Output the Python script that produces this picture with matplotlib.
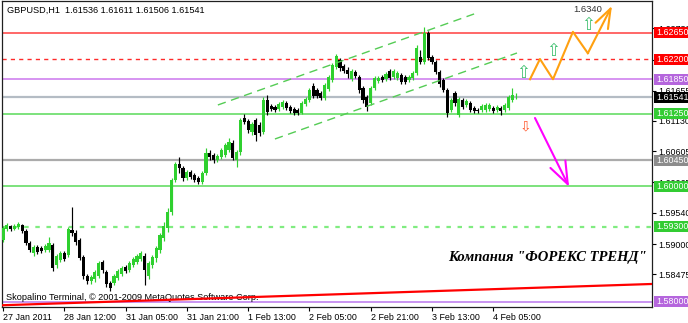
import matplotlib
matplotlib.use('Agg')
import matplotlib.pyplot as plt
from matplotlib.patches import Rectangle
from matplotlib.transforms import blended_transform_factory
import numpy as np

# ---------------- data (GBPUSD H1) ----------------
opens = [
    1.5907, 1.5926, 1.5931, 1.5926, 1.5930, 1.5933, 1.5923, 1.5902, 1.5885, 1.5895,
    1.5893, 1.5890, 1.5890, 1.5898, 1.5864, 1.5872, 1.5885, 1.5881, 1.5924, 1.5919,
    1.5907, 1.5878, 1.5845, 1.5836, 1.5840, 1.5845, 1.5869, 1.5852, 1.5833, 1.5833,
    1.5841, 1.5848, 1.5860, 1.5855, 1.5864, 1.5869, 1.5874, 1.5879, 1.5845, 1.5864,
    1.5876, 1.5890, 1.5911, 1.5928, 1.5956, 1.6011, 1.6038, 1.6032, 1.6014, 1.6025,
    1.6019, 1.6014, 1.6007, 1.6023, 1.6058, 1.6054, 1.6045, 1.6051, 1.6054, 1.6063,
    1.6075, 1.6045, 1.6059, 1.6118, 1.6113, 1.6094, 1.6115, 1.6106, 1.6094, 1.6149,
    1.6139, 1.6137, 1.6134, 1.6137, 1.6144, 1.6137, 1.6134, 1.6132, 1.6127, 1.6142,
    1.6149, 1.6173, 1.6166, 1.6161, 1.6153, 1.6168, 1.6184, 1.6206, 1.6218, 1.6208,
    1.6201, 1.6185, 1.6198, 1.6189, 1.6170, 1.6154, 1.6144, 1.6170, 1.6182, 1.6189,
    1.6185, 1.6199, 1.6189, 1.6187, 1.6192, 1.6189, 1.6184, 1.6187, 1.6196, 1.6223,
    1.6215, 1.6265, 1.6223, 1.6215, 1.6198, 1.6184, 1.6166, 1.6132, 1.6161, 1.6123,
    1.6149, 1.6141, 1.6144, 1.6135, 1.6132, 1.6132, 1.6132, 1.6134, 1.6135, 1.6132,
    1.6135, 1.6132, 1.6135, 1.6149, 1.61536]
highs = [
    1.5931, 1.5936, 1.5933, 1.5935, 1.5938, 1.5935, 1.5926, 1.5905, 1.5898, 1.5898,
    1.5897, 1.5900, 1.5912, 1.5902, 1.5883, 1.5888, 1.5888, 1.5930, 1.5964, 1.5924,
    1.5911, 1.5881, 1.5848, 1.5847, 1.5855, 1.5871, 1.5872, 1.5855, 1.5836, 1.5848,
    1.5857, 1.5862, 1.5864, 1.5871, 1.5878, 1.5883, 1.5888, 1.5885, 1.5871, 1.5881,
    1.5897, 1.5919, 1.5938, 1.5962, 1.6014, 1.6042, 1.6051, 1.6035, 1.6028, 1.6028,
    1.6023, 1.6018, 1.6026, 1.6066, 1.6063, 1.6058, 1.6056, 1.6066, 1.6075, 1.6083,
    1.6080, 1.6063, 1.6118, 1.6125, 1.6116, 1.6111, 1.6118, 1.6111, 1.6154, 1.6158,
    1.6142, 1.6141, 1.6146, 1.6149, 1.6147, 1.6141, 1.6137, 1.6135, 1.6147, 1.6154,
    1.6170, 1.6179, 1.6170, 1.6165, 1.6179, 1.6192, 1.6213, 1.6229, 1.6222, 1.6211,
    1.6206, 1.6203, 1.6201, 1.6192, 1.6173, 1.6158, 1.6173, 1.6191, 1.6191, 1.6192,
    1.6198, 1.6203, 1.6203, 1.6199, 1.6196, 1.6192, 1.6192, 1.6199, 1.6244, 1.6236,
    1.6275, 1.6268, 1.6227, 1.6218, 1.6201, 1.6187, 1.6170, 1.6153, 1.6165, 1.6154,
    1.6153, 1.6151, 1.6147, 1.6139, 1.6135, 1.6142, 1.6144, 1.6144, 1.6139, 1.6141,
    1.6139, 1.6144, 1.6158, 1.6170, 1.61611]
lows = [
    1.5904, 1.5923, 1.5923, 1.5924, 1.5926, 1.5919, 1.5898, 1.5886, 1.5879, 1.5883,
    1.5885, 1.5886, 1.5886, 1.5853, 1.5859, 1.5869, 1.5871, 1.5878, 1.5914, 1.5898,
    1.5872, 1.5840, 1.5831, 1.5831, 1.5834, 1.5841, 1.5850, 1.5826, 1.5819, 1.5829,
    1.5838, 1.5845, 1.5850, 1.5852, 1.5860, 1.5866, 1.5871, 1.5829, 1.5840, 1.5859,
    1.5869, 1.5885, 1.5905, 1.5921, 1.5950, 1.6007, 1.6023, 1.6009, 1.6011, 1.6013,
    1.6007, 1.6004, 1.6004, 1.6019, 1.6045, 1.6040, 1.6042, 1.6047, 1.6051, 1.6059,
    1.6045, 1.6033, 1.6054, 1.6108, 1.6092, 1.6089, 1.6078, 1.6087, 1.6090, 1.6123,
    1.6130, 1.6128, 1.6130, 1.6134, 1.6132, 1.6127, 1.6123, 1.6123, 1.6125, 1.6139,
    1.6146, 1.6153, 1.6153, 1.6149, 1.6149, 1.6165, 1.6180, 1.6203, 1.6199, 1.6196,
    1.6187, 1.6182, 1.6187, 1.6161, 1.6144, 1.6130, 1.6141, 1.6166, 1.6179, 1.6180,
    1.6182, 1.6184, 1.6185, 1.6184, 1.6177, 1.6177, 1.6180, 1.6184, 1.6192, 1.6211,
    1.6211, 1.6218, 1.6211, 1.6194, 1.6172, 1.6163, 1.6120, 1.6128, 1.6139, 1.6120,
    1.6134, 1.6137, 1.6128, 1.6127, 1.6127, 1.6128, 1.6128, 1.6130, 1.6127, 1.6128,
    1.6123, 1.6128, 1.6132, 1.6146, 1.61506]
closes = [
    1.5928, 1.5933, 1.5926, 1.5931, 1.5935, 1.5923, 1.5902, 1.5890, 1.5895, 1.5886,
    1.5888, 1.5897, 1.5902, 1.5859, 1.5879, 1.5885, 1.5874, 1.5926, 1.5919, 1.5904,
    1.5876, 1.5845, 1.5836, 1.5843, 1.5852, 1.5867, 1.5855, 1.5831, 1.5824, 1.5845,
    1.5853, 1.5859, 1.5853, 1.5867, 1.5874, 1.5879, 1.5885, 1.5855, 1.5867, 1.5878,
    1.5893, 1.5916, 1.5931, 1.5956, 1.6011, 1.6038, 1.6032, 1.6014, 1.6025, 1.6016,
    1.6011, 1.6007, 1.6023, 1.6058, 1.6051, 1.6045, 1.6052, 1.6063, 1.6071, 1.6076,
    1.6049, 1.6059, 1.6115, 1.6111, 1.6097, 1.6108, 1.6089, 1.6092, 1.6149, 1.6128,
    1.6134, 1.6132, 1.6142, 1.6146, 1.6135, 1.6130, 1.6127, 1.6127, 1.6144, 1.6151,
    1.6166, 1.6156, 1.6156, 1.6153, 1.6175, 1.6189, 1.6210, 1.6225, 1.6204, 1.6199,
    1.6194, 1.6199, 1.6191, 1.6166, 1.6149, 1.6137, 1.6170, 1.6187, 1.6187, 1.6184,
    1.6194, 1.6187, 1.6199, 1.6196, 1.6180, 1.6180, 1.6189, 1.6196, 1.6239, 1.6215,
    1.6265, 1.6222, 1.6215, 1.6198, 1.6177, 1.6166, 1.6127, 1.6149, 1.6144, 1.6151,
    1.6137, 1.6147, 1.6132, 1.6130, 1.6130, 1.6139, 1.6141, 1.6141, 1.6130, 1.6137,
    1.6130, 1.6141, 1.6154, 1.6158, 1.61541]

time_label_bars = [0, 16, 32, 48, 64, 80, 96, 112, 128]
time_labels = ["27 Jan 2011", "28 Jan 12:00", "31 Jan 05:00", "31 Jan 21:00",
               "1 Feb 13:00", "2 Feb 05:00", "2 Feb 21:00", "3 Feb 13:00", "4 Feb 05:00"]
axis_ticks = [1.62730, 1.62190, 1.61655, 1.61130, 1.60605, 1.60065, 1.59540, 1.59000, 1.58475]

level_prices = [1.62650, 1.62200, 1.61850, 1.61250, 1.60450, 1.60000, 1.59300, 1.58000]
level_colors = ['#ff5c5c', '#ff2a2a', '#cc77ee', '#66dd66', '#ababab', '#66dd66', '#80ec80', '#bb77ee']
level_styles = ['-', (0, (3, 3)), '-', '-', '-', '-', (0, (2, 3)), '-']
level_widths = [1.3, 1.0, 1.1, 1.2, 1.6, 1.2, 1.6, 1.1]
label_colors = ['#ff0000', '#ff0000', '#b566dd', '#33cc33', '#8c8c8c', '#33cc33', '#33cc33', '#b566dd']
current_price = 1.61541

channel_upper_x = [56.1, 123.0]
channel_upper_y = [1.61405, 1.62979]
channel_lower_x = [71.0, 134.2]
channel_lower_y = [1.60817, 1.62304]

bull_path_x = [137.6, 140.2, 143.6, 148.8, 152.7, 159.0]
bull_path_y = [1.6185, 1.6220, 1.6185, 1.6267, 1.6230, 1.6312]
bear_path_x = [138.9, 147.8]
bear_path_y = [1.6118, 1.5999]
up_arrow_x = [135.8, 143.6, 152.7]
up_arrow_y = [1.6196, 1.6234, 1.6279]
down_arrow_x = [136.3]
down_arrow_y = [1.6104]
target_text = "1.6340"
target_pos = (148.8, 1.6305)
floor_line_x = [-0.3, 169.4]
floor_line_y = [1.57942, 1.58310]

header = "GBPUSD,H1  1.61536 1.61611 1.61506 1.61541"
copyright_text = "Skopalino Terminal, \u00a9 2001-2009 MetaQuotes Software Corp."
company_text = 'Компания "ФОРЕКС ТРЕНД"'

# ---------------- figure ----------------
plt.rcParams['font.family'] = ['Liberation Sans', 'DejaVu Sans']
W, H = 688, 323
fig = plt.figure(figsize=(W / 100, H / 100), dpi=100)
fig.patch.set_facecolor('white')
ax = fig.add_axes([2 / W, 16 / H, 650 / W, 306 / H])
ax.set_xlim(-0.26, 169.45)
ax.set_ylim(1.57912, 1.63203)
ax.set_facecolor('white')

o = np.array(opens); h = np.array(highs); l = np.array(lows); c = np.array(closes)
x = np.arange(len(o))
bull = c >= o
green = '#2fd02f'
col = np.where(bull, green, 'black')

# horizontal levels
for p, lc, ls, lw in zip(level_prices, level_colors, level_styles, level_widths):
    ax.axhline(p, color=lc, linestyle=ls, lw=lw, zorder=1)
ax.axhline(current_price, color='#b4bcc4', lw=1.6, zorder=1)

# candles
ax.vlines(x, l, h, colors=col, lw=0.85, zorder=3)
body_h = np.maximum(np.abs(c - o), 0.00012)
ax.bar(x, body_h, bottom=np.minimum(o, c), width=0.82, color=col, linewidth=0, zorder=4)

# channel
ax.plot(channel_upper_x, channel_upper_y, color='#55cc55', lw=1.0, dashes=(6, 4), zorder=5)
ax.plot(channel_lower_x, channel_lower_y, color='#55cc55', lw=1.0, dashes=(6, 4), zorder=5)

# floor trend line
ax.plot(floor_line_x, floor_line_y, color='#ff0000', lw=1.6, zorder=5, clip_on=True)

# forecast paths
orange = '#ffa010'
ax.plot(bull_path_x[:-1], bull_path_y[:-1], color=orange, lw=1.5, zorder=6)
ax.annotate('', xy=(bull_path_x[-1], bull_path_y[-1]), xytext=(bull_path_x[-2], bull_path_y[-2]),
            arrowprops=dict(arrowstyle='->,head_length=0.7,head_width=0.25', color=orange, lw=1.5,
                            mutation_scale=20, shrinkA=0, shrinkB=0), zorder=6)
ax.annotate('', xy=(bear_path_x[1], bear_path_y[1]), xytext=(bear_path_x[0], bear_path_y[0]),
            arrowprops=dict(arrowstyle='->,head_length=0.8,head_width=0.3', color='#ff00ff', lw=1.5,
                            mutation_scale=20, shrinkA=0, shrinkB=0), zorder=6)
for ux, uy in zip(up_arrow_x, up_arrow_y):
    ax.text(ux, uy, '\u21e7', color='#40c070', fontsize=12, ha='center', va='center',
            fontfamily='DejaVu Sans', zorder=7)
for dx, dy in zip(down_arrow_x, down_arrow_y):
    ax.text(dx, dy, '\u21e9', color='#ff5a30', fontsize=10, ha='center', va='center',
            fontfamily='DejaVu Sans', zorder=7)
ax.text(target_pos[0], target_pos[1], target_text, color='#333333', fontsize=6.8,
        ha='left', va='center', zorder=7)

# texts
ax.text(1.0, 1.6305, header, fontsize=6.6, ha='left', va='center', color='black', zorder=8)
ax.text(0.8, 1.58068, copyright_text, fontsize=6.6, ha='left', va='center', color='black', zorder=4.5)
ax.text(168.1, 1.5876, company_text, fontsize=10.5, ha='right', va='center',
        fontfamily='Liberation Serif', fontweight='bold', fontstyle='italic', color='black', zorder=8)

# axes styling
for s in ax.spines.values():
    s.set_color('#202020')
    s.set_linewidth(0.9)
ax.yaxis.tick_right()
ax.set_yticks(axis_ticks)
ax.set_yticklabels([f'{v:.5f}' for v in axis_ticks])
ax.tick_params(axis='y', length=3, width=0.8, labelsize=6.4, pad=1.5, colors='black')
ax.set_xticks(time_label_bars)
ax.set_xticklabels(time_labels)
ax.tick_params(axis='x', length=3, width=0.8, labelsize=6.4, pad=1.5, colors='black')
for t in ax.get_xticklabels():
    t.set_ha('left')

# price labels on right axis
trans = blended_transform_factory(fig.transFigure, ax.transData)
box_h = 11 / 5783
for p, bc in list(zip(level_prices, label_colors)) + [(current_price, 'black')]:
    ax.add_patch(Rectangle((653.5 / W, p - box_h / 2), 40 / W, box_h, transform=trans,
                           facecolor=bc, edgecolor='none', clip_on=False, zorder=10))
    ax.text(656 / W, p, f'{p:.5f}', transform=trans, color='white', fontsize=6.4,
            ha='left', va='center', clip_on=False, zorder=11)

fig.savefig('out.png', dpi=100)
